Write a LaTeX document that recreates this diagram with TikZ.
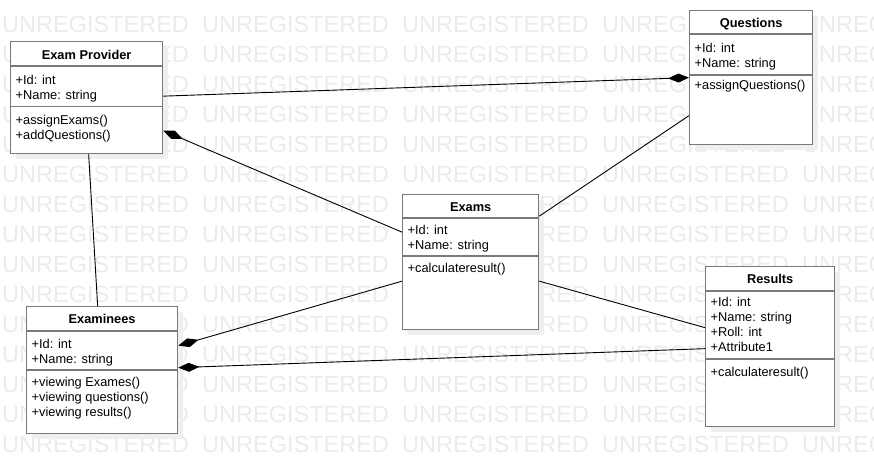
\documentclass[tikz,border=0pt]{standalone}
\usepackage{fontspec}
\setmainfont{Liberation Sans}
\usetikzlibrary{arrows.meta,shadows}

\definecolor{boxgray}{HTML}{7A7A7A}
\definecolor{markgray}{HTML}{EBEBEB}
\definecolor{shadegray}{HTML}{EFEFEF}

\begin{document}
\begin{tikzpicture}[x=1pt, y=-1pt,
    watermark/.style={anchor=base west, inner sep=0pt, text=markgray, font=\fontsize{23.5pt}{24pt}\selectfont},
    classbox/.style={draw=boxgray, line width=1.3pt, fill=white, anchor=north west, inner sep=0pt,
      drop shadow={shadow xshift=5pt, shadow yshift=-5pt, fill=shadegray, opacity=1}},
    classtitle/.style={anchor=base, inner sep=0pt, font=\fontsize{12.8pt}{15pt}\selectfont\bfseries},
    members/.style={anchor=north west, inner sep=0pt, align=left, font=\fontsize{12.8pt}{15pt}\selectfont},
    sepline/.style={draw=boxgray, line width=1.3pt},
    link/.style={draw=black, line width=0.9pt},
    compfrom/.style={link, {Diamond[length=21pt, width=9pt]}-},
    compto/.style={link, -{Diamond[length=21pt, width=9pt]}}]

  \useasboundingbox (0,0) rectangle (874,474);

  % watermark
  \begin{scope}
    \clip (0,0) rectangle (874,474);
    \foreach \row in {0,...,14}
      \foreach \col in {0,...,4}
        \node[watermark] at (2+200*\col, 32+30*\row) {UNREGISTERED};
  \end{scope}

  % Exam Provider
  \node[classbox, minimum width=152pt, minimum height=112pt] (ep) at (10,41) {};
  \draw[sepline] ([yshift=-25pt]ep.north west) -- ([yshift=-25pt]ep.north east);
  \draw[sepline] ([yshift=-65.5pt]ep.north west) -- ([yshift=-65.5pt]ep.north east);
  \node[classtitle] at ([yshift=-18.5pt]ep.north) {Exam Provider};
  \node[members] at ([xshift=5.5pt, yshift=-34.2pt]ep.north west) {+Id: int\\+Name: string};
  \node[members] at ([xshift=5.5pt, yshift=-73.7pt]ep.north west) {+assignExams()\\+addQuestions()};

  % Questions
  \node[classbox, minimum width=123pt, minimum height=134pt] (qu) at (689,10) {};
  \draw[sepline] ([yshift=-24pt]qu.north west) -- ([yshift=-24pt]qu.north east);
  \draw[sepline] ([yshift=-65pt]qu.north west) -- ([yshift=-65pt]qu.north east);
  \node[classtitle] at ([yshift=-17.5pt]qu.north) {Questions};
  \node[members] at ([xshift=5.5pt, yshift=-32.7pt]qu.north west) {+Id: int\\+Name: string};
  \node[members] at ([xshift=5.5pt, yshift=-70.2pt]qu.north west) {+assignQuestions()};

  % Exams
  \node[classbox, minimum width=136pt, minimum height=135pt] (ex) at (402,194) {};
  \draw[sepline] ([yshift=-24pt]ex.north west) -- ([yshift=-24pt]ex.north east);
  \draw[sepline] ([yshift=-62pt]ex.north west) -- ([yshift=-62pt]ex.north east);
  \node[classtitle] at ([yshift=-17pt]ex.north) {Exams};
  \node[members] at ([xshift=5.5pt, yshift=-30.7pt]ex.north west) {+Id: int\\+Name: string};
  \node[members] at ([xshift=5.5pt, yshift=-68.7pt]ex.north west) {+calculateresult()};

  % Examinees
  \node[classbox, minimum width=151pt, minimum height=127pt] (en) at (26,306) {};
  \draw[sepline] ([yshift=-25pt]en.north west) -- ([yshift=-25pt]en.north east);
  \draw[sepline] ([yshift=-64pt]en.north west) -- ([yshift=-64pt]en.north east);
  \node[classtitle] at ([yshift=-17.5pt]en.north) {Examinees};
  \node[members] at ([xshift=5.5pt, yshift=-32.7pt]en.north west) {+Id: int\\+Name: string};
  \node[members] at ([xshift=5.5pt, yshift=-70.7pt]en.north west) {+viewing Exames()\\+viewing questions()\\+viewing results()};

  % Results
  \node[classbox, minimum width=129pt, minimum height=160pt] (rs) at (705,266) {};
  \draw[sepline] ([yshift=-25pt]rs.north west) -- ([yshift=-25pt]rs.north east);
  \draw[sepline] ([yshift=-93pt]rs.north west) -- ([yshift=-93pt]rs.north east);
  \node[classtitle] at ([yshift=-17.5pt]rs.north) {Results};
  \node[members] at ([xshift=5.5pt, yshift=-30.7pt]rs.north west) {+Id: int\\+Name: string\\+Roll: int\\+Attribute1};
  \node[members] at ([xshift=5.5pt, yshift=-100.7pt]rs.north west) {+calculateresult()};

  % associations
  \draw[compto] ([yshift=1.5pt]ep.east) -- (qu.west);
  \draw[compfrom] ([yshift=-33pt]ep.east) -- ([yshift=30pt]ex.west);
  \draw[link] ([xshift=2pt]ep.south) -- ([xshift=-4.5pt]en.north);
  \draw[link] ([yshift=-38pt]qu.west) -- ([yshift=46pt]ex.east);
  \draw[compto] ([yshift=-19pt]ex.west) -- ([yshift=24.5pt]en.east);
  \draw[compto] ([yshift=-2pt]rs.west) -- ([yshift=2.5pt]en.east);
  \draw[link] ([yshift=-19pt]ex.east) -- ([yshift=19pt]rs.west);
\end{tikzpicture}
\end{document}
